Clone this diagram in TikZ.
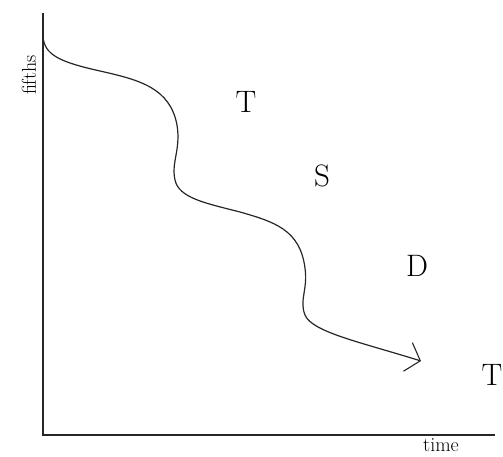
\documentclass[tikz,border=0pt]{standalone}
\usetikzlibrary{arrows.meta}

\begin{document}
\begin{tikzpicture}[
    x=1pt, y=-1pt,
    axis/.style={draw=black!85, line width=1.1pt},
    curve/.style={draw=black!85, line width=1.2pt,
        -{Straight Barb[length=13pt, width=30pt, line width=1.1pt]}},
    region/.style={font=\fontsize{31}{36}\selectfont, inner sep=0pt},
    axlabel/.style={font=\fontsize{20}{24}\selectfont, inner sep=0pt},
]
\useasboundingbox (0,0) rectangle (503,456);

% axes
\coordinate (origin) at (43,435);
\coordinate (ytop) at (43,13);
\coordinate (xend) at (495,435);
\draw[axis] (ytop) -- (origin) -- (xend);

\node[axlabel, rotate=90] (fifths) at (29,75) {fifths};
\node[axlabel, anchor=base] (time) at (441,451) {time};

% region letters
\node[region] (tA) at (246,102) {T};
\node[region] (s)  at (322,176) {S};
\node[region] (d)  at (417,266) {D};
\node[region] (tB) at (492,375) {T};

% progression
\draw[curve] (43,36) .. controls (44,55) and (60,62) .. (100,71)
    .. controls (140,80) and (170,88) .. (177,125)
    .. controls (181,150) and (171,162) .. (175,180)
    .. controls (179,198) and (205,203) .. (240,212)
    .. controls (275,222) and (300,230) .. (305,268)
    .. controls (308,290) and (299,300) .. (305,315)
    .. controls (312,332) and (360,342) .. (421,361);

\end{tikzpicture}
\end{document}
